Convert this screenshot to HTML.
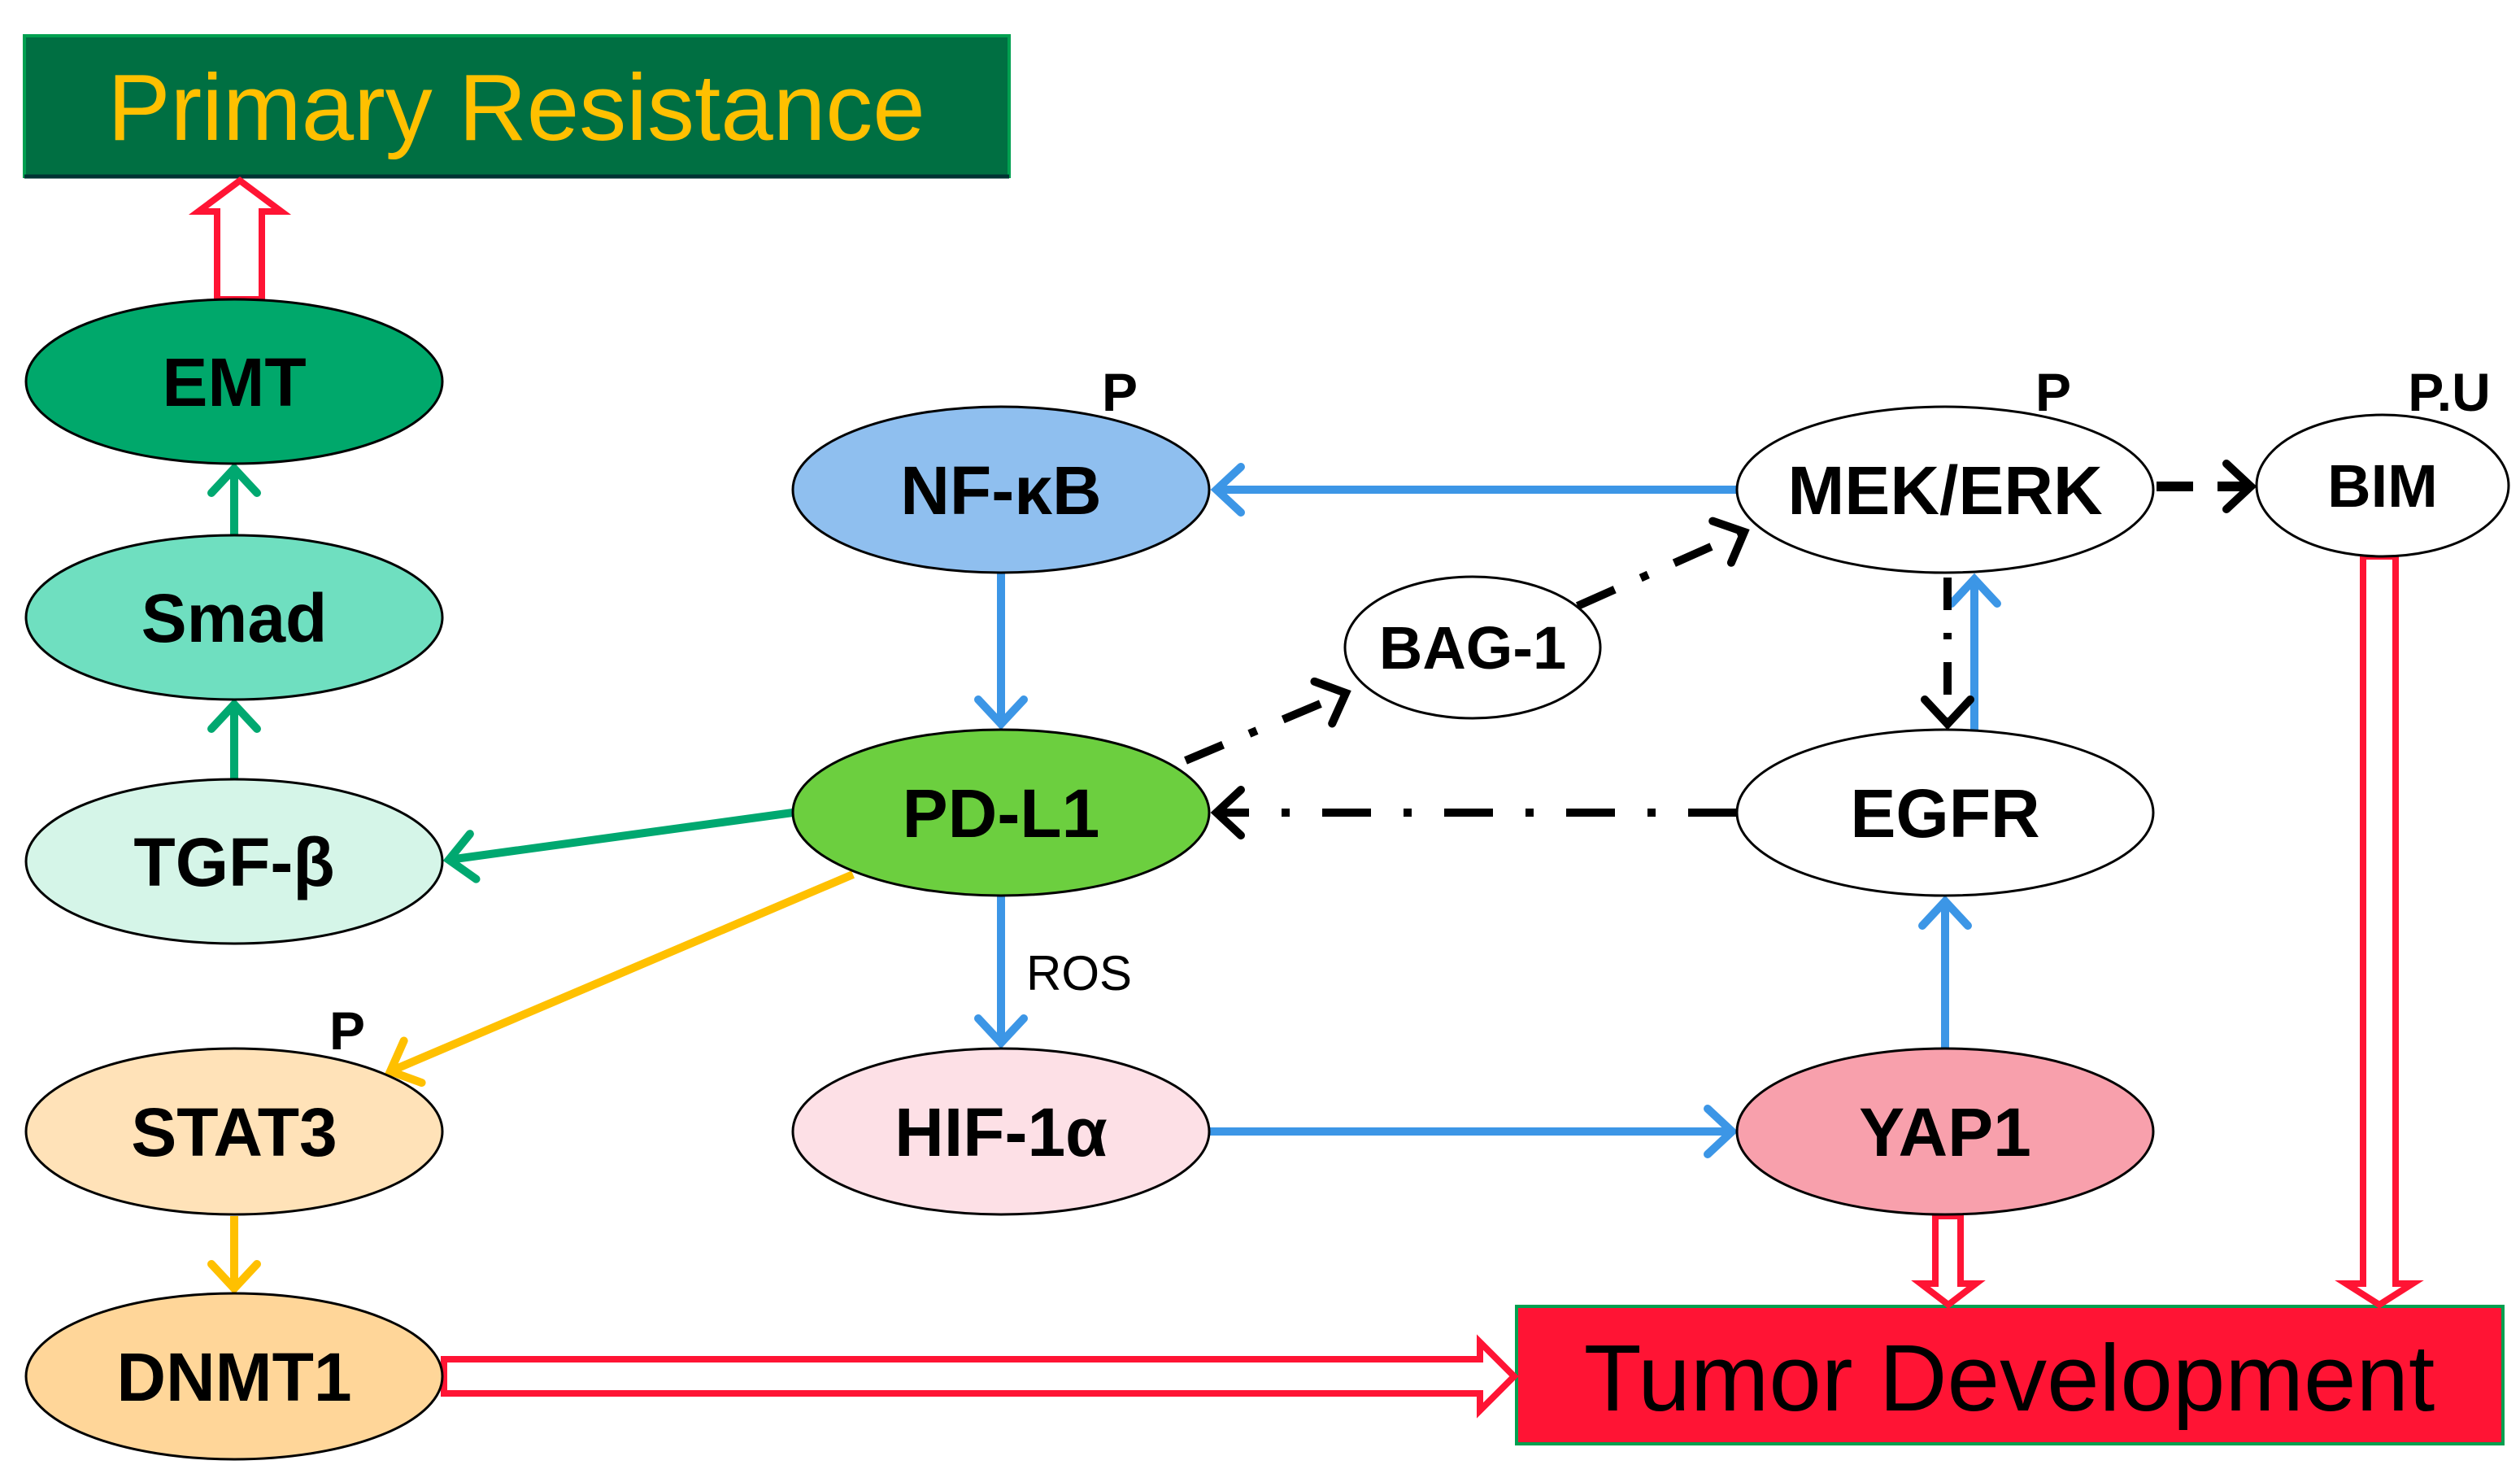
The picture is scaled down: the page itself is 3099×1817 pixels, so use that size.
<!DOCTYPE html>
<html><head><style>html,body{margin:0;padding:0;background:#fff}svg{display:block}</style></head><body>
<svg width="3099" height="1817" viewBox="0 0 3099 1817" xmlns="http://www.w3.org/2000/svg" font-family="Liberation Sans, Arial, sans-serif">
<defs>
<marker id="mb" markerUnits="userSpaceOnUse" markerWidth="80" markerHeight="80" refX="40" refY="40" orient="auto" viewBox="0 0 80 80"><path d="M10,12 L40,40 L10,68" fill="none" stroke="#3C96E6" stroke-width="10" stroke-linecap="round"/></marker>
<marker id="mg" markerUnits="userSpaceOnUse" markerWidth="80" markerHeight="80" refX="40" refY="40" orient="auto" viewBox="0 0 80 80"><path d="M10,12 L40,40 L10,68" fill="none" stroke="#00A870" stroke-width="10" stroke-linecap="round"/></marker>
<marker id="my" markerUnits="userSpaceOnUse" markerWidth="80" markerHeight="80" refX="40" refY="40" orient="auto" viewBox="0 0 80 80"><path d="M10,12 L40,40 L10,68" fill="none" stroke="#FFC000" stroke-width="10" stroke-linecap="round"/></marker>
<marker id="mk" markerUnits="userSpaceOnUse" markerWidth="80" markerHeight="80" refX="40" refY="40" orient="auto" viewBox="0 0 80 80"><path d="M10,12 L40,40 L10,68" fill="none" stroke="#000" stroke-width="10" stroke-linecap="round"/></marker>
</defs>
<rect x="30" y="44" width="1211" height="173" fill="#006F42" stroke="#00A050" stroke-width="4"/>
<line x1="30" y1="217" x2="1241" y2="217" stroke="#033" stroke-width="5"/>
<text x="635" y="172" font-size="116" fill="#FFC000" text-anchor="middle">Primary Resistance</text>
<rect x="1865" y="1606" width="1213" height="169" fill="#FF1434" stroke="#00A050" stroke-width="4"/>
<text x="2471" y="1734" font-size="116" fill="#000" text-anchor="middle">Tumor Development</text>

<g fill="#fff" stroke="#FF1434" stroke-width="8">
<polygon points="267,368 267,260 244,260 295,222 346,260 322,260 322,368"/>
<polygon points="2906,684 2906,1578 2885,1578 2926,1604 2967,1578 2946,1578 2946,684"/>
<polygon points="2380,1495 2380,1578 2362,1578 2396,1604 2430,1578 2411,1578 2411,1495"/>
<polygon points="546,1671 1820,1671 1820,1650 1862,1692 1820,1734 1820,1713 546,1713"/>
</g>

<g stroke-width="10" fill="none">
<line x1="288" y1="957" x2="288" y2="866" stroke="#00A870" marker-end="url(#mg)"/>
<line x1="288" y1="658" x2="288" y2="576" stroke="#00A870" marker-end="url(#mg)"/>
<line x1="975" y1="999" x2="552" y2="1057" stroke="#00A870" marker-end="url(#mg)"/>
<line x1="1049" y1="1075" x2="480" y2="1317" stroke="#FFC000" marker-end="url(#my)"/>
<line x1="288" y1="1495" x2="288" y2="1584" stroke="#FFC000" marker-end="url(#my)"/>
<line x1="1231" y1="704" x2="1231" y2="890" stroke="#3C96E6" marker-end="url(#mb)"/>
<line x1="1231" y1="1101" x2="1231" y2="1282" stroke="#3C96E6" marker-end="url(#mb)"/>
<line x1="1488" y1="1391" x2="2130" y2="1391" stroke="#3C96E6" marker-end="url(#mb)"/>
<line x1="2136" y1="602" x2="1496" y2="602" stroke="#3C96E6" marker-end="url(#mb)"/>
<line x1="2392" y1="1288" x2="2392" y2="1108" stroke="#3C96E6" marker-end="url(#mb)"/>
<line x1="2428" y1="897" x2="2428" y2="712" stroke="#3C96E6" marker-end="url(#mb)"/>
<line x1="2395" y1="710" x2="2395" y2="890" stroke="#000" stroke-dasharray="40,28,8,28" marker-end="url(#mk)"/>
<line x1="2136" y1="999" x2="1496" y2="999" stroke="#000" stroke-dasharray="60,40,10,40" marker-end="url(#mk)"/>
<line x1="1458" y1="935" x2="1655" y2="852" stroke="#000" stroke-dasharray="50,35,10,35" marker-end="url(#mk)"/>
<line x1="1940" y1="745" x2="2145" y2="654" stroke="#000" stroke-dasharray="50,35,10,35" marker-end="url(#mk)"/>
<line x1="2652" y1="598" x2="2768" y2="598" stroke="#000" stroke-width="12" stroke-dasharray="45,30" marker-end="url(#mk)"/>
</g>

<g stroke="#000" stroke-width="3">
<ellipse cx="288" cy="469" rx="256" ry="101" fill="#00A86B"/>
<ellipse cx="288" cy="759" rx="256" ry="101" fill="#6FDFC0"/>
<ellipse cx="288" cy="1059" rx="256" ry="101" fill="#D5F5E8"/>
<ellipse cx="288" cy="1391" rx="256" ry="102" fill="#FFE2B8"/>
<ellipse cx="288" cy="1692" rx="256" ry="102" fill="#FFD699"/>
<ellipse cx="1231" cy="602" rx="256" ry="102" fill="#8FBFEF"/>
<ellipse cx="1231" cy="999" rx="256" ry="102" fill="#6CCF3F"/>
<ellipse cx="1231" cy="1391" rx="256" ry="102" fill="#FDE0E6"/>
<ellipse cx="1811" cy="796" rx="157" ry="87" fill="#fff"/>
<ellipse cx="2392" cy="602" rx="256" ry="102" fill="#fff"/>
<ellipse cx="2930" cy="597" rx="155" ry="87" fill="#fff"/>
<ellipse cx="2392" cy="999" rx="256" ry="102" fill="#fff"/>
<ellipse cx="2392" cy="1391" rx="256" ry="102" fill="#F8A0AC"/>
</g>

<g font-weight="bold" font-size="84" text-anchor="middle" fill="#000">
<text x="288" y="499">EMT</text>
<text x="288" y="789">Smad</text>
<text x="288" y="1089">TGF-β</text>
<text x="288" y="1421">STAT3</text>
<text x="288" y="1722">DNMT1</text>
<text x="1231" y="632">NF-κB</text>
<text x="1231" y="1029">PD-L1</text>
<text x="1231" y="1421">HIF-1α</text>
<text x="2392" y="632">MEK/ERK</text>
<text x="2392" y="1029">EGFR</text>
<text x="2392" y="1421">YAP1</text>
<text x="1811" y="822" font-size="74">BAG-1</text>
<text x="2930" y="623" font-size="74">BIM</text>
<text x="1377" y="505" font-size="66">P</text>
<text x="2525" y="505" font-size="66">P</text>
<text x="3012" y="505" font-size="66">P.U</text>
<text x="427" y="1290" font-size="66">P</text>
</g>
<text x="1262" y="1217" font-size="60" fill="#000">ROS</text>
</svg>
</body></html>
